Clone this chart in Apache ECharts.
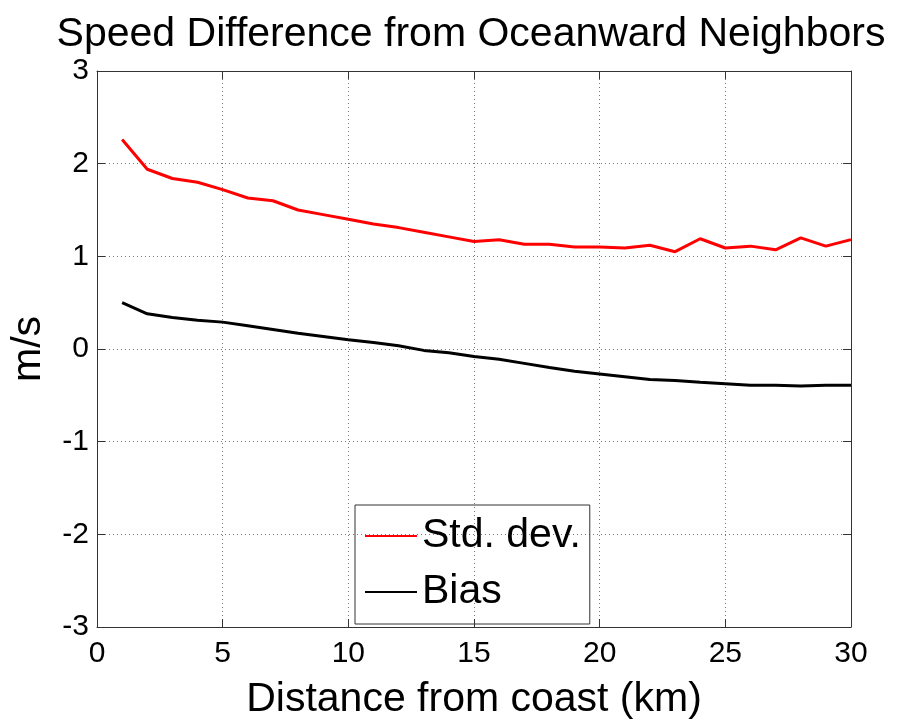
<!DOCTYPE html>
<html><head><meta charset="utf-8">
<script src="https://cdn.jsdelivr.net/npm/echarts@6/dist/echarts.min.js"></script>
<style>html,body{margin:0;padding:0;background:#fff}#c{width:901px;height:725px}</style>
</head><body><div id="c"></div>
<script>
const distance = [1,2,3,4,5,6,7,8,9,10,11,12,13,14,15,16,17,18,19,20,21,22,23,24,25,26,27,28,29,30];
const stdDev = [2.26,1.94,1.84,1.80,1.72,1.63,1.60,1.50,1.45,1.40,1.35,1.31,1.26,1.21,1.16,1.18,1.13,1.13,1.10,1.10,1.09,1.12,1.05,1.19,1.09,1.11,1.07,1.20,1.11,1.18];
const bias = [0.50,0.38,0.34,0.31,0.29,0.25,0.21,0.17,0.135,0.10,0.07,0.035,-0.015,-0.04,-0.08,-0.11,-0.155,-0.20,-0.24,-0.27,-0.30,-0.33,-0.34,-0.36,-0.375,-0.39,-0.39,-0.40,-0.39,-0.39];
const xTicks = [0,5,10,15,20,25,30];
const yTicks = [-3,-2,-1,0,1,2,3];

const FONT = '"Liberation Sans",Arial,sans-serif';
const chart = echarts.init(document.getElementById('c'), null, {renderer:'canvas'});
const pair = (xs, ys) => xs.map((x,i)=>[x, ys[i]]);
const axisCommon = {
  axisLine:{show:true,onZero:false,lineStyle:{color:'#333',width:1}},
  axisTick:{show:true,inside:true,length:8,lineStyle:{color:'#333',width:1}},
};
chart.setOption({
  animation:false,
  backgroundColor:'#fff',
  title:{text:'Speed Difference from Oceanward Neighbors',left:466,textAlign:'center',top:9,
    textStyle:{fontFamily:FONT,fontSize:41,fontWeight:'normal',color:'#000'}},
  grid:{left:94,right:50,top:71,bottom:93,containLabel:false},
  legend:{orient:'vertical',left:355,top:505,
    data:['Std. dev.','Bias'],
    borderColor:'#333',borderWidth:1,borderRadius:0,padding:[9,9,10,10],
    itemWidth:52,itemHeight:14,itemGap:12,icon:'path://M0,6 L52,6 L52,8 L0,8 Z',
    textStyle:{fontFamily:FONT,fontSize:41,color:'#000',lineHeight:44}},
  xAxis:[{type:'value',min:0,max:30,interval:5,position:'bottom',...axisCommon,
    name:'Distance from coast (km)',nameLocation:'middle',nameGap:52,
    nameTextStyle:{fontFamily:FONT,fontSize:41,color:'#000'},
    axisLabel:{fontFamily:FONT,fontSize:30,color:'#000',margin:12,customValues:xTicks},
    splitLine:{show:true,lineStyle:{color:'#777',type:[1,3],width:1}}},
   {type:'value',min:0,max:30,interval:5,position:'top',...axisCommon,axisLabel:{show:false},splitLine:{show:false}}],
  yAxis:[{type:'value',min:-3,max:3,interval:1,position:'left',...axisCommon,
    name:'m/s',nameLocation:'middle',nameGap:48,nameRotate:90,
    nameTextStyle:{fontFamily:FONT,fontSize:41,color:'#000'},
    axisLabel:{fontFamily:FONT,fontSize:30,color:'#000',margin:8,customValues:yTicks},
    splitLine:{show:true,lineStyle:{color:'#777',type:[1,3],width:1}}},
   {type:'value',min:-3,max:3,interval:1,position:'right',...axisCommon,axisLabel:{show:false},splitLine:{show:false}}],
  series:[
    {name:'Std. dev.',type:'line',data:pair(distance,stdDev),symbol:'none',lineStyle:{color:'#ff0000',width:3},itemStyle:{color:'#ff0000'}},
    {name:'Bias',type:'line',data:pair(distance,bias),symbol:'none',lineStyle:{color:'#000',width:3},itemStyle:{color:'#000'}}
  ]
});
</script></body></html>
